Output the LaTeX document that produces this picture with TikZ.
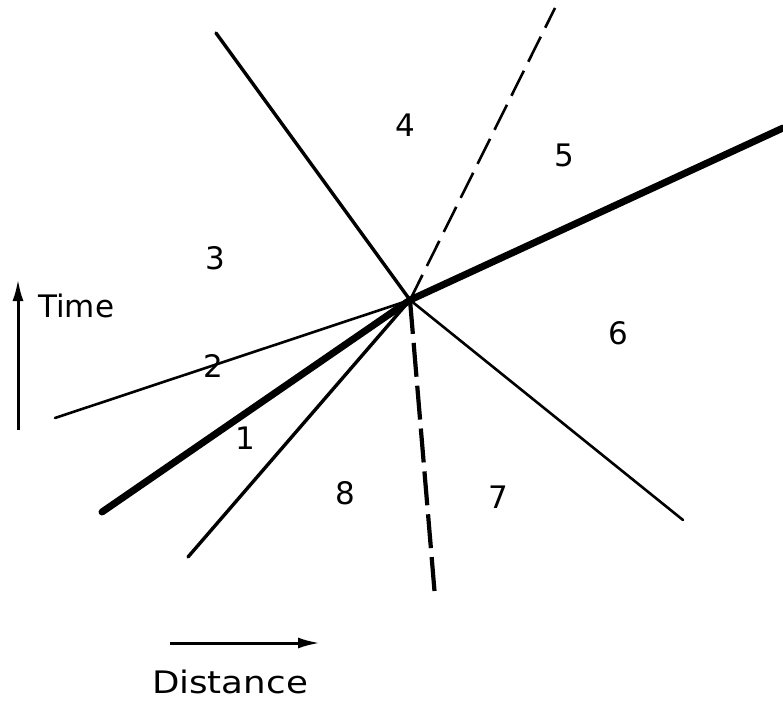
\documentclass[tikz,border=0pt]{standalone}
\usepackage{fontspec}
\setmainfont{DejaVu Sans}
\usepackage{tikz}
\usetikzlibrary{positioning,arrows.meta}
\tikzset{
  waveline/.style={line width=3.4pt, line cap=round},
  thinwave/.style={line width=2.6pt, line cap=round},
  shockline/.style={line width=7pt, line cap=round},
  contact/.style={line width=2.6pt, dash pattern=on 28pt off 10pt},
  contactlow/.style={line width=4.2pt, dash pattern=on 34pt off 9pt},
  axisarrow/.style={-{Latex[length=22pt,width=11pt]}, line width=3pt},
  region/.style={font=\fontsize{31}{34}\selectfont, inner sep=0pt},
  axislabel/.style={font=\fontsize{31}{34}\selectfont, inner sep=0pt}
}

\begin{document}
\begin{tikzpicture}[x=1pt, y=-1pt]
      \useasboundingbox (0,0) rectangle (783,701);
      % meeting point and far ends of the lines
      \coordinate (o) at (410,300);
      \coordinate (ul) at (216,33);
      \coordinate (ur) at (555,8);
      \coordinate (r) at (783,128);
      \coordinate (l) at (55,418);
      \coordinate (ll) at (102,512);
      \coordinate (bl) at (188,557);
      \coordinate (b) at (435,597);
      \coordinate (br) at (683,520);
      \draw[waveline] (o) -- (ul);
      \draw[contact] (o) -- (ur);
      \draw[shockline] (o) -- (r);
      \draw[thinwave] (o) -- (l);
      \draw[shockline] (o) -- (ll);
      \draw[waveline] (o) -- (bl);
      \draw[contactlow] (o) -- (b);
      \draw[thinwave] (o) -- (br);
      % regions
      \node[region] (r1) at (245,438) {1};
      \node[region] (r2) at (213,366) {2};
      \node[region] (r3) at (215,258) {3};
      \node[region] (r4) at (405,125) {4};
      \node[region] (r5) at (564,155) {5};
      \node[region] (r6) at (618,333) {6};
      \node[region] (r7) at (498,497) {7};
      \node[region] (r8) at (345,493) {8};
      % axes
      \coordinate (t0) at (18,430);
      \coordinate (t1) at (18,279);
      \draw[axisarrow] (t0) -- (t1);
      \node[axislabel, anchor=west] (time) at (38,306) {Time};
      \coordinate (d0) at (170,643);
      \coordinate (d1) at (320,643);
      \draw[axisarrow] (d0) -- (d1);
      \node[axislabel] (dist) at (230,682) {\scalebox{1.15}[1]{Distance}};
    \end{tikzpicture}
\end{document}
